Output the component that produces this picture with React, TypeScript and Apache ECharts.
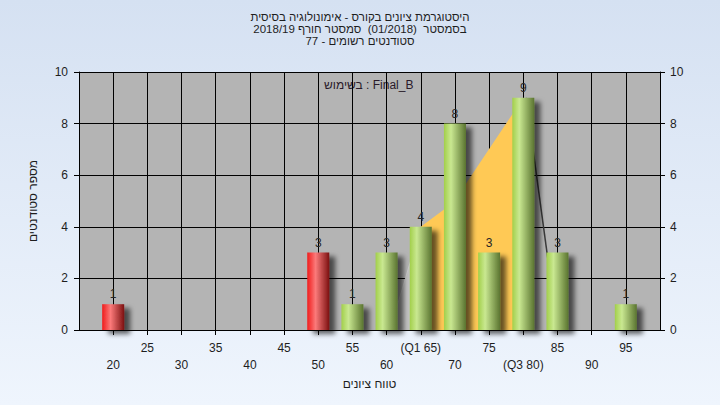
import React, { useEffect, useRef } from "react";
import * as echarts from "echarts";

// ---- data ----
const grades = [20, 50, 55, 60, 65, 70, 75, 80, 85, 95];
const counts = [1, 3, 1, 3, 4, 8, 3, 9, 3, 1];
const failingGrades = [20, 50];

const xMin = 15;
const xMax = 100;
const xStep = 5;
const yMin = 0;
const yMax = 10;
const yStep = 2;

const q1Grade = 65;
const q3Grade = 80;

// interquartile shape (yellow) and its edges
const iqrX = [65, 68.4, 71.6, 78.5, 80];
const iqrY = [4, 4.67, 5.67, 8.4, 9];
const riseX = [60.5, 65];
const riseY = [0, 4];
const fallX = [80.4, 85];
const fallY = [9, 0];

const titleLines = [
  "היסטוגרמת ציונים בקורס - אימונולוגיה בסיסית",
  "בסמסטר  (01/2018)  סמסטר חורף 2018/19",
  "סטודנטים רשומים - 77",
];
const usedLabel = "בשימוש : Final_B";
const xTitle = "טווח ציונים";
const yTitle = "מספר סטודנטים";

const FONT = "'Liberation Sans', 'DejaVu Sans', Arial, sans-serif";
const TXT = "#1e1e1e";

export default function App() {
  const ref = useRef<HTMLDivElement>(null);

  useEffect(() => {
    if (!ref.current) return;
    const chart = echarts.init(ref.current, null, { renderer: "svg" });

    const redGrad = new echarts.graphic.LinearGradient(0, 0, 1, 0, [
      { offset: 0, color: "#f01c1c" },
      { offset: 0.38, color: "#fb7a7a" },
      { offset: 1, color: "#7c1010" },
    ]);
    const greenGrad = new echarts.graphic.LinearGradient(0, 0, 1, 0, [
      { offset: 0, color: "#a2cf4a" },
      { offset: 0.32, color: "#c9e891" },
      { offset: 1, color: "#5a7430" },
    ]);

    const pair = (xs: number[], ys: number[]) => xs.map((x, i) => [x, ys[i]]);

    const xLabel = (v: number) => {
      if (v <= xMin || v >= xMax) return "";
      let t = String(v);
      if (v === q1Grade) t = `(Q1 ${v})`;
      if (v === q3Grade) t = `(Q3 ${v})`;
      const idx = Math.round((v - xMin) / xStep);
      return idx % 2 === 1 ? "\n" + t : t;
    };

    const yAxisCommon = {
      type: "value",
      min: yMin,
      max: yMax,
      interval: yStep,
      axisLine: { show: true, lineStyle: { color: "#000", width: 1 } },
      axisTick: { show: true, length: 5, lineStyle: { color: "#000" } },
      axisLabel: { color: TXT, fontSize: 12, fontFamily: FONT },
    };

    const titleGraphics = titleLines.map((line, i) => ({
      type: "text",
      left: "center",
      top: 11 + i * 12,
      style: {
        text: line,
        fontSize: 11.5,
        fill: TXT,
        fontFamily: FONT,
      },
    }));

    chart.setOption({
      animation: false,
      backgroundColor: new echarts.graphic.LinearGradient(0, 0, 0, 1, [
        { offset: 0, color: "#d5e1f2" },
        { offset: 1, color: "#eff5fd" },
      ]),
      textStyle: { fontFamily: FONT },
      graphic: [
        ...titleGraphics,
        {
          type: "text",
          left: 369 - 45,
          top: 79,
          style: {
            text: usedLabel,
            fontSize: 12,
            fill: "#2a1a2a",
            fontFamily: FONT,
          },
        },
      ],
      grid: {
        left: 79,
        right: 60,
        top: 72,
        bottom: 75,
        show: true,
        backgroundColor: "#b4b4b4",
        borderWidth: 0,
      },
      xAxis: {
        type: "value",
        min: xMin,
        max: xMax,
        interval: xStep,
        name: xTitle,
        nameLocation: "middle",
        nameGap: 42,
        nameTextStyle: { color: TXT, fontSize: 12, fontFamily: FONT },
        axisLine: { show: true, onZero: false, lineStyle: { color: "#000" } },
        axisTick: { show: true, length: 5, lineStyle: { color: "#000" } },
        splitLine: { show: true, lineStyle: { color: "#000", width: 1 } },
        axisLabel: {
          color: TXT,
          fontSize: 12,
          fontFamily: FONT,
          margin: 9,
          lineHeight: 17,
          showMinLabel: false,
          showMaxLabel: false,
          formatter: xLabel,
        },
      },
      yAxis: [
        {
          ...yAxisCommon,
          position: "left",
          name: yTitle,
          nameLocation: "middle",
          nameGap: 40,
          nameTextStyle: { color: TXT, fontSize: 12, fontFamily: FONT },
          axisLabel: { ...yAxisCommon.axisLabel, margin: 11 },
          splitLine: { show: true, lineStyle: { color: "#000", width: 1 } },
        },
        {
          ...yAxisCommon,
          position: "right",
          axisLabel: { ...yAxisCommon.axisLabel, margin: 10 },
          splitLine: { show: false },
        },
      ],
      series: [
        {
          type: "line",
          data: pair(riseX, riseY),
          symbol: "none",
          lineStyle: { color: "#cbcbcb", width: 1 },
          areaStyle: { color: "#c2c2c2", opacity: 1 },
          z: 1,
        },
        {
          type: "line",
          data: pair(iqrX, iqrY),
          symbol: "none",
          smooth: false,
          lineStyle: { width: 0 },
          areaStyle: { color: "#ffc955", opacity: 1 },
          z: 1,
        },
        {
          type: "line",
          data: pair(fallX, fallY),
          symbol: "none",
          lineStyle: { color: "#3a3a3a", width: 1.5 },
          z: 1,
        },
        {
          type: "bar",
          barWidth: 22,
          z: 3,
          data: grades.map((g, i) => ({
            value: [g, counts[i]],
            itemStyle: {
              color: failingGrades.includes(g) ? redGrad : greenGrad,
              shadowColor: "rgba(0,0,0,0.6)",
              shadowBlur: 5,
              shadowOffsetX: 6,
              shadowOffsetY: 4,
            },
          })),
          label: {
            show: true,
            position: "top",
            distance: 4,
            color: "#262626",
            fontSize: 12,
            fontFamily: FONT,
            formatter: (p: any) => String(p.value[1]),
          },
        },
      ],
    });

    return () => chart.dispose();
  }, []);

  return (
    <div
      ref={ref}
      style={{ position: "fixed", left: 0, top: 0, width: 720, height: 405 }}
    />
  );
}
